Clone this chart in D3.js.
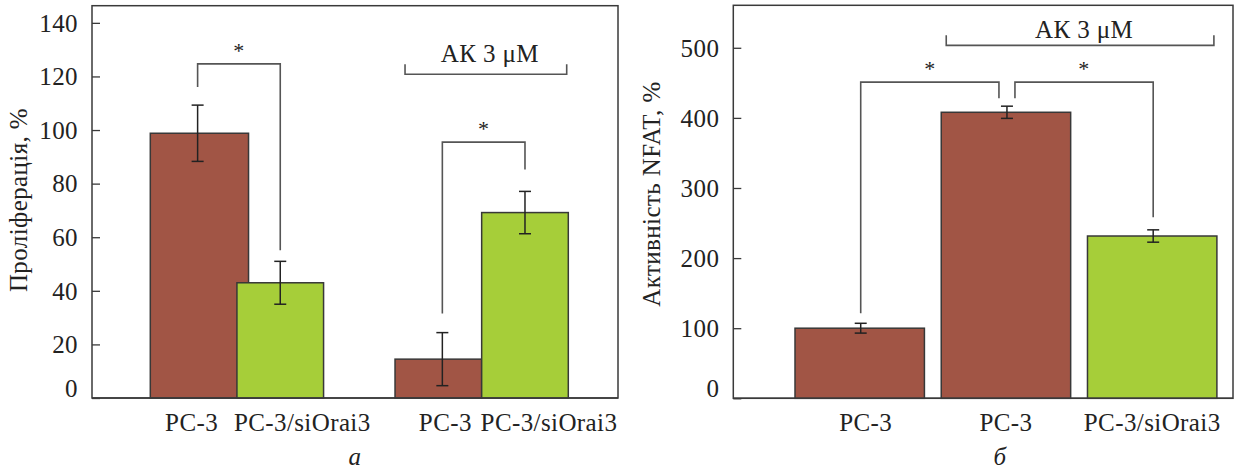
<!DOCTYPE html>
<html>
<head>
<meta charset="utf-8">
<script src="https://cdn.jsdelivr.net/npm/d3@7"></script>
<style>
  body { margin: 0; background: #fff; }
  svg { display: block; }
  text { font-family: "Liberation Serif", "Times New Roman", serif; fill: #222; letter-spacing: 0.4px; }
</style>
</head>
<body>
<svg width="1235" height="470"></svg>
<script>
// ---- data, panel a
const groupsA = ['control', 'ak']
const seriesA = ['PC-3', 'PC-3/siOrai3']
const labelsA = ['PC-3', 'PC-3/siOrai3', 'PC-3', 'PC-3/siOrai3']
const meansA = [98.8, 43, 14.5, 69.2]
const errsA = [10.5, 8, 9.9, 7.9]
const ticksA = [0, 20, 40, 60, 80, 100, 120, 140]
const sigA = [[0, 1, 124.7], [2, 3, 95.5]]
const akLevelA = 120.8

// ---- data, panel б
const labelsB = ['PC-3', 'PC-3', 'PC-3/siOrai3']
const seriesB = ['PC-3', 'PC-3', 'PC-3/siOrai3']
const meansB = [100, 408, 231.5]
const errsB = [7, 8.7, 8.8]
const ticksB = [0, 100, 200, 300, 400, 500]
const sigB = [[0, 1, 451], [1, 2, 451]]
const akLevelB = 503.5

const red = '#a15545', green = '#a6ce39'
const barStroke = '#383838', lineCol = '#555'
const fs = '25px'

const svg = d3.select('svg')

function frame(g, x0, x1, y) {
  g.append('rect')
    .attr('x', x0).attr('y', y.range()[1])
    .attr('width', x1 - x0).attr('height', y.range()[0] - y.range()[1])
    .attr('fill', 'none').attr('stroke', '#3a3a3a').attr('stroke-width', 1.5)
}

function yAxis(g, x0, y, ticks) {
  const ax = g.append('g').attr('transform', `translate(${x0},0)`)
    .call(d3.axisRight(y).tickValues(ticks).tickSize(8).tickFormat(''))
  ax.select('.domain').remove()
  ax.selectAll('line').attr('stroke', '#3a3a3a').attr('stroke-width', 1.3)
  g.selectAll('.ylab').data(ticks).enter().append('text')
    .attr('x', x0 - 14)
    .attr('y', d => y(d) + (d === 0 ? -1.5 : 8.8))
    .attr('text-anchor', 'end')
    .style('font-size', fs)
    .text(d => d)
}

function errBar(g, cx, y, m, e) {
  const c = 6
  g.append('line').attr('x1', cx).attr('x2', cx).attr('y1', y(m + e)).attr('y2', y(m - e))
  g.append('line').attr('x1', cx - c).attr('x2', cx + c).attr('y1', y(m + e)).attr('y2', y(m + e))
  g.append('line').attr('x1', cx - c).attr('x2', cx + c).attr('y1', y(m - e)).attr('y2', y(m - e))
}

function sigBracket(g, xa, xb, ya, yb, ytop) {
  g.append('path')
    .attr('d', `M${xa},${ya}V${ytop}H${xb}V${yb}`)
    .attr('fill', 'none').attr('stroke', lineCol).attr('stroke-width', 1.6)
  g.append('text')
    .attr('x', (xa + xb) / 2).attr('y', ytop - 6)
    .attr('text-anchor', 'middle').style('font-size', '22px')
    .text('*')
}

function akBracket(g, xa, xb, yl, textGap) {
  g.append('path')
    .attr('d', `M${xa},${yl - 10}V${yl}H${xb}V${yl - 10}`)
    .attr('fill', 'none').attr('stroke', lineCol).attr('stroke-width', 1.6)
  g.append('text')
    .attr('x', (xa + xb) / 2 + 4).attr('y', yl - textGap)
    .attr('text-anchor', 'middle').style('font-size', fs)
    .text('АК 3 μM')
}

// ================= panel a
{
  const g = svg.append('g')
  const y = d3.scaleLinear().domain([0, 146.4]).range([398, 5.7])
  const xg = d3.scaleBand().domain(groupsA).range([150.3, 568.3]).paddingInner(0.292)
  const xs = d3.scaleBand().domain(seriesA).range([0, xg.bandwidth()])
  const col = d3.scaleOrdinal().domain(seriesA).range([red, green])

  const bars = meansA.map((m, i) => {
    const grp = groupsA[Math.floor(i / 2)], s = seriesA[i % 2]
    const x = xg(grp) + xs(s)
    return {m, e: errsA[i], x, w: xs.bandwidth(), s, i}
  })

  frame(g, 92, 618, y)

  g.selectAll('.bar').data(bars).enter().append('rect')
    .attr('x', d => d.x)
    .attr('y', d => y(d.m))
    .attr('width', d => d.w + (d.i === 0 ? 11.6 : 0))
    .attr('height', d => y(0) - y(d.m))
    .attr('fill', d => col(d.s))
    .attr('stroke', barStroke).attr('stroke-width', 1.5)

  const eg = g.append('g').attr('stroke', '#222').attr('stroke-width', 1.5)
  const errX = d => d.x + d.w / 2 + (d.s === seriesA[0] ? 4 : 0)
  bars.forEach(d => errBar(eg, errX(d), y, d.m, d.e))

  // base line over bar bottoms
  g.append('line').attr('x1', 92).attr('x2', 618).attr('y1', y(0)).attr('y2', y(0))
    .attr('stroke', '#3a3a3a').attr('stroke-width', 1.5)

  yAxis(g, 92, y, ticksA)

  const legGap = [18, 11, 19, 22]
  sigA.forEach(([a, b, lv]) => {
    const A = bars[a], B = bars[b]
    sigBracket(g, errX(A), errX(B), y(A.m + A.e) - legGap[a], y(B.m + B.e) - legGap[b], y(lv))
  })

  akBracket(g, bars[2].x + 10, bars[3].x + bars[3].w - 1.6, y(akLevelA), 12.6)

  const labelShift = [-2, 22, 7, 24]
  g.selectAll('.xlab').data(bars).enter().append('text')
    .attr('x', d => d.x + d.w / 2 + labelShift[d.i])
    .attr('y', 431)
    .attr('text-anchor', 'middle').style('font-size', fs)
    .text(d => labelsA[d.i])

  g.append('text')
    .attr('transform', 'translate(27,200) rotate(-90)')
    .attr('text-anchor', 'middle').style('font-size', fs)
    .text('Проліферація, %')

  g.append('text').attr('x', 355).attr('y', 465)
    .attr('text-anchor', 'middle').style('font-size', fs).style('font-style', 'italic')
    .text('а')
}

// ================= panel б
{
  const g = svg.append('g')
  const y = d3.scaleLinear().domain([0, 560.6]).range([398.3, 5.3])
  const x = d3.scaleBand().domain(d3.range(meansB.length)).range([795, 1216.9]).paddingInner(0.115)
  const col = d3.scaleOrdinal().domain(['PC-3', 'PC-3/siOrai3']).range([red, green])

  const bars = meansB.map((m, i) => ({m, e: errsB[i], x: x(i), w: x.bandwidth(), s: seriesB[i], i}))

  frame(g, 733.3, 1233, y)

  g.selectAll('.bar').data(bars).enter().append('rect')
    .attr('x', d => d.x)
    .attr('y', d => y(d.m))
    .attr('width', d => d.w)
    .attr('height', d => y(0) - y(d.m))
    .attr('fill', d => col(d.s))
    .attr('stroke', barStroke).attr('stroke-width', 1.5)

  const eg = g.append('g').attr('stroke', '#222').attr('stroke-width', 1.5)
  const errX = d => d.x + d.w / 2 + 1
  bars.forEach(d => errBar(eg, errX(d), y, d.m, d.e))

  g.append('line').attr('x1', 733.3).attr('x2', 1233).attr('y1', y(0)).attr('y2', y(0))
    .attr('stroke', '#3a3a3a').attr('stroke-width', 1.5)

  yAxis(g, 733.3, y, ticksB)

  sigB.forEach(([a, b, lv], k) => {
    const A = bars[a], B = bars[b]
    const xa = errX(A) + (k === 1 ? 8 : 0), xb = errX(B) - (k === 0 ? 8 : 0)
    const ya = y(A.m + A.e) - (k === 1 ? 8 : 10)
    const yb = y(B.m + B.e) - (k === 0 ? 8 : 12.7)
    sigBracket(g, xa, xb, ya, yb, y(lv))
  })

  akBracket(g, bars[1].x + 5, bars[2].x + bars[2].w - 3, y(akLevelB), 7.7)

  g.selectAll('.xlab').data(bars).enter().append('text')
    .attr('x', d => d.x + d.w / 2 + (d.i === 0 ? 6 : 0))
    .attr('y', 431)
    .attr('text-anchor', 'middle').style('font-size', fs)
    .text(d => labelsB[d.i])

  g.append('text')
    .attr('transform', 'translate(660,194) rotate(-90)')
    .attr('text-anchor', 'middle').style('font-size', fs)
    .text('Активність NFAT, %')

  g.append('text').attr('x', 1000).attr('y', 465)
    .attr('text-anchor', 'middle').style('font-size', fs).style('font-style', 'italic')
    .text('б')
}
</script>
</body>
</html>
